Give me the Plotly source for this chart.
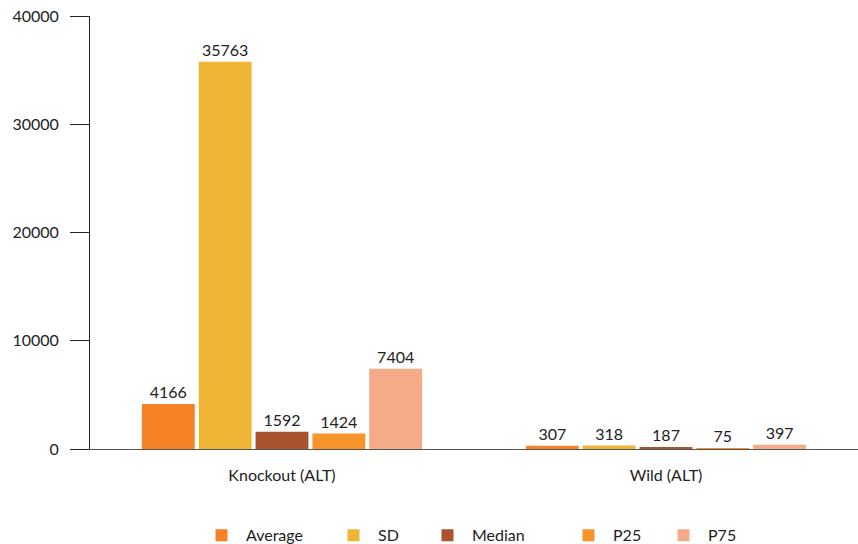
import plotly.graph_objects as go

categories = ["Knockout (ALT)", "Wild (ALT)"]
series_names = ["Average", "SD", "Median", "P25", "P75"]
average = [4166, 307]
sd = [35763, 318]
median = [1592, 187]
p25 = [1424, 75]
p75 = [7404, 397]
colors = ["#F58226", "#F0B535", "#A9532F", "#F7952A", "#F5AA88"]
y_ticks = [0, 10000, 20000, 30000, 40000]
legend_px = [211, 343, 437, 578, 673]  # left edge of legend squares (pixels)

plot_left, plot_w = 90, 768

fig = go.Figure()
legends = {}
for i, (name, vals, col) in enumerate(zip(series_names, [average, sd, median, p25, p75], colors)):
    lname = "legend" if i == 0 else f"legend{i+1}"
    fig.add_trace(go.Bar(
        x=categories, y=vals, name=name, marker=dict(color=col, line=dict(width=0)),
        text=[str(v) for v in vals], textposition="outside", cliponaxis=False,
        textfont=dict(size=16, color="#222222"), legend=lname,
    ))
    legends[lname] = dict(
        orientation="h", x=(legend_px[i] - 14 - plot_left) / plot_w, xanchor="left",
        y=-0.16, yanchor="top", font=dict(size=16, color="#222222"),
        itemwidth=39, bgcolor="rgba(0,0,0,0)",
    )

fig.update_layout(
    width=858, height=544,
    margin=dict(l=90, r=0, t=16, b=95, autoexpand=False),
    paper_bgcolor="white", plot_bgcolor="white",
    font=dict(family="Lato, Open Sans, sans-serif", size=16, color="#222222"),
    barmode="group", bargap=0.26, bargroupgap=0.07,
    showlegend=True,
    xaxis=dict(showline=True, linecolor="#555555", linewidth=1, ticks="",
               tickfont=dict(size=16), ticklabelstandoff=12, automargin=False),
    yaxis=dict(range=[0, 40000], tickvals=y_ticks, ticktext=[str(v) for v in y_ticks],
               showgrid=False, showline=True, linecolor="#222222", linewidth=1,
               ticks="outside", ticklen=19, tickcolor="#222222", automargin=False,
               zeroline=False, tickfont=dict(size=16), ticklabelstandoff=8),
    **legends,
)
fig.write_html("out.html")
